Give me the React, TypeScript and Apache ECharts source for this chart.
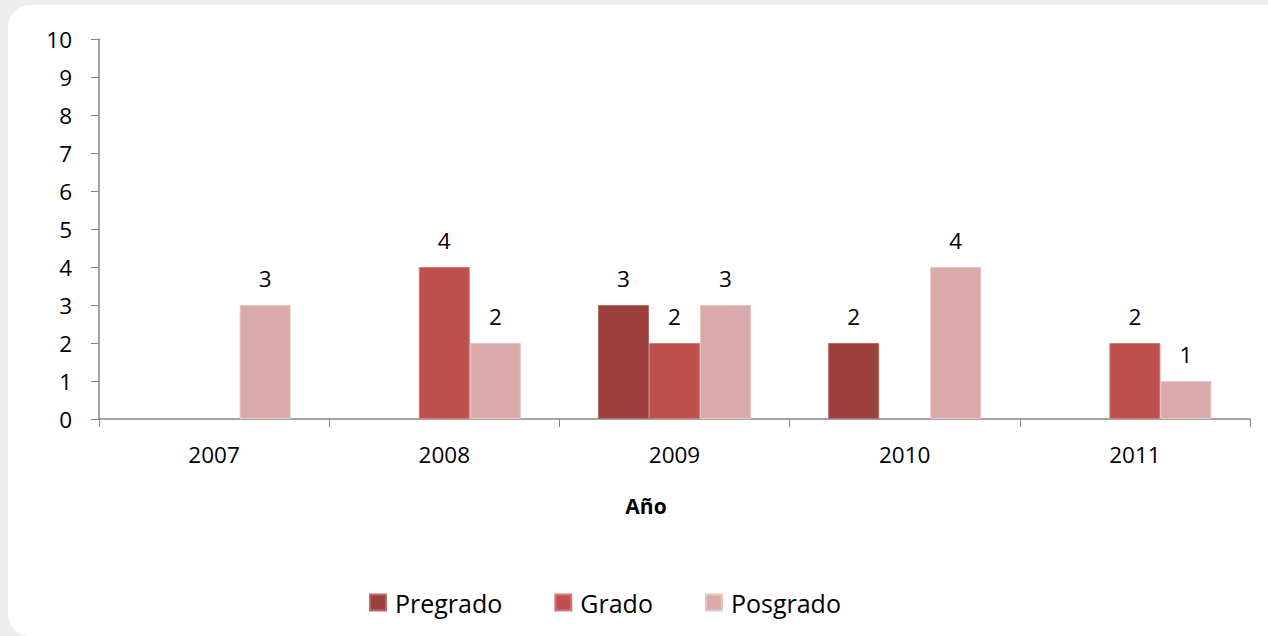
import React, { useEffect, useRef } from "react";
import * as echarts from "echarts";

const categories = ["2007", "2008", "2009", "2010", "2011"];
const seriesNames = ["Pregrado", "Grado", "Posgrado"];
const pregrado = [null, null, 3, 2, null];
const grado = [null, 4, 2, null, 2];
const posgrado = [3, 2, 3, 4, 1];
const colors = ["#9C403E", "#C0504D", "#D9AAA9"];
const borders = ["#B86A68", "#D27C79", "#E8C6C5"];
const xAxisTitle = "Año";

export default function App() {
  const ref = useRef<HTMLDivElement>(null);
  useEffect(() => {
    if (!ref.current) return;
    const chart = echarts.init(ref.current, null, { renderer: "svg" });
    const font = "'Open Sans', sans-serif";
    const data = [pregrado, grado, posgrado];
    chart.setOption({
      animation: false,
      backgroundColor: "#eeeeee",
      textStyle: { fontFamily: font },
      graphic: [
        {
          type: "rect",
          z: -10,
          shape: { x: 8, y: 5, width: 1290, height: 631, r: 22 },
          style: { fill: "#ffffff" },
        },
      ],
      grid: { left: 99, right: 18, top: 39, bottom: 217, containLabel: false },
      legend: {
        left: 364,
        top: 585,
        itemWidth: 16,
        itemHeight: 16,
        itemGap: 52,
        icon: "rect",
        textStyle: { fontSize: 25, color: "#000", fontFamily: font, padding: [0, 0, 0, 4] },
        data: seriesNames,
      },
      xAxis: {
        type: "category",
        data: categories,
        name: xAxisTitle,
        nameLocation: "middle",
        nameGap: 76,
        nameTextStyle: {
          fontSize: 21,
          fontWeight: "bold",
          color: "#000",
          fontFamily: font,
          padding: [0, 57, 0, 0],
        },
        axisLine: { lineStyle: { color: "#868686", width: 1.5 } },
        axisTick: { show: true, length: 8, alignWithLabel: false, lineStyle: { color: "#868686" } },
        axisLabel: { margin: 24, fontSize: 22.5, color: "#000", fontFamily: font },
      },
      yAxis: {
        type: "value",
        min: 0,
        max: 10,
        interval: 1,
        splitLine: { show: false },
        axisLine: { show: true, lineStyle: { color: "#868686", width: 1.5 } },
        axisTick: { show: true, length: 8, lineStyle: { color: "#868686" } },
        axisLabel: { margin: 27, fontSize: 22.5, color: "#000", fontFamily: font },
      },
      series: seriesNames.map((name, i) => ({
        name,
        type: "bar",
        data: data[i],
        barGap: "0%",
        barCategoryGap: "33.5%",
        itemStyle: { color: colors[i], borderColor: borders[i], borderWidth: 1 },
        label: {
          show: true,
          position: "top",
          distance: 15,
          fontSize: 22.5,
          color: "#000",
          fontFamily: font,
        },
      })),
    });
    return () => chart.dispose();
  }, []);
  return (
    <div style={{ position: "fixed", left: 0, top: 0, width: 1268, height: 636 }}>
      <div ref={ref} style={{ width: 1268, height: 636 }} />
    </div>
  );
}
